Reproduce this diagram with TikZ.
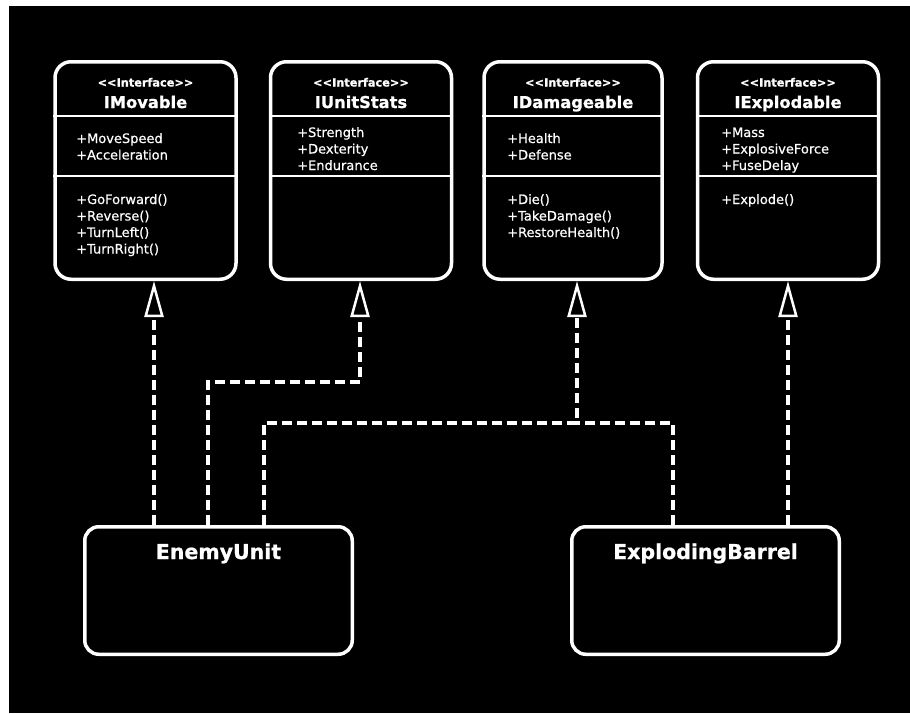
\documentclass[tikz,border=0pt]{standalone}
\usepackage{fontspec}
\setmainfont{DejaVu Sans}
\newfontfamily\memberfont{DejaVu Sans}[FakeBold=0.6]
\newfontfamily\heavyfont{DejaVu Sans}[BoldFeatures={FakeBold=0.9}]
\usetikzlibrary{arrows.meta}
\begin{document}
\begin{tikzpicture}[x=1pt,y=-1pt,
  box/.style={draw=white, line width=3.5pt, rounded corners=16pt, fill=black, inner sep=0pt},
  iface/.style={box, minimum width=181pt, minimum height=217.5pt},
  cls/.style={box, rounded corners=14pt, minimum width=267.5pt, minimum height=127.5pt},
  divider/.style={draw=white, line width=2.5pt},
  stereo/.style={text=white, font=\heavyfont\fontsize{11.3}{13}\selectfont\bfseries, inner sep=0pt, anchor=base},
  title/.style={text=white, font=\heavyfont\fontsize{16.3}{19}\selectfont\bfseries, inner sep=0pt, anchor=base},
  member/.style={text=white, font=\memberfont\fontsize{13}{16}\selectfont, inner sep=0pt, anchor=base west},
  clsname/.style={text=white, font=\heavyfont\fontsize{20.5}{24}\selectfont\bfseries, inner sep=0pt, anchor=base},
  link/.style={draw=white, line width=3.5pt, dash pattern=on 10pt off 5pt},
  realize/.style={link, -{Triangle[width=19pt,length=36pt,line width=2.5pt,fill=black]}},
]
% page and dark canvas
\fill[white] (0,0) rectangle (910,713);
\fill[black] (9,6) rectangle (910,713);
\useasboundingbox (0,0) rectangle (910,713);

% interface boxes
\node[iface] (imov) at (145.5,170.5) {};
\node[iface] (iuni) at (361,170.5) {};
\node[iface, minimum width=178pt] (idam) at (573,170.5) {};
\node[iface] (iexp) at (788,170.5) {};

% compartment dividers
\foreach \n in {imov,iuni,idam,iexp}{
  \draw[divider] ([yshift=-55.75pt]\n.north west) -- ([yshift=-55.75pt]\n.north east);
  \draw[divider] ([yshift=-115.75pt]\n.north west) -- ([yshift=-115.75pt]\n.north east);
}

% IMovable
\node[stereo] (imov-st) at (145.5,86.5) {<{}<Interface>{}>};
\node[title]  (imov-t)  at (145.5,108) {IMovable};
\node[member] (imov-a1) at (76,143)   {+MoveSpeed};
\node[member] (imov-a2) at (76,159.5) {+Acceleration};
\node[member] (imov-m1) at (76,204)   {+GoForward()};
\node[member] (imov-m2) at (76,220.5) {+Reverse()};
\node[member] (imov-m3) at (76,237)   {+TurnLeft()};
\node[member] (imov-m4) at (76,253.5) {+TurnRight()};

% IUnitStats
\node[stereo] (iuni-st) at (361,86.5) {<{}<Interface>{}>};
\node[title]  (iuni-t)  at (361,108) {IUnitStats};
\node[member] (iuni-a1) at (297,137)   {+Strength};
\node[member] (iuni-a2) at (297,153.5) {+Dexterity};
\node[member] (iuni-a3) at (297,170)   {+Endurance};

% IDamageable
\node[stereo] (idam-st) at (573,86.5) {<{}<Interface>{}>};
\node[title]  (idam-t)  at (573,108) {IDamageable};
\node[member] (idam-a1) at (507,143)   {+Health};
\node[member] (idam-a2) at (507,159.5) {+Defense};
\node[member] (idam-m1) at (507,204)   {+Die()};
\node[member] (idam-m2) at (507,220.5) {+TakeDamage()};
\node[member] (idam-m3) at (507,237)   {+RestoreHealth()};

% IExplodable
\node[stereo] (iexp-st) at (788,86.5) {<{}<Interface>{}>};
\node[title]  (iexp-t)  at (788,108) {IExplodable};
\node[member] (iexp-a1) at (721,137)   {+Mass};
\node[member] (iexp-a2) at (721,153.5) {+ExplosiveForce};
\node[member] (iexp-a3) at (721,170)   {+FuseDelay};
\node[member] (iexp-m1) at (721,204)   {+Explode()};

% concrete classes
\node[cls] (eu) at (218.5,590.5) {};
\node[cls] (eb) at (705.5,590.5) {};
\node[clsname] (eu-t) at (218.5,559) {EnemyUnit};
\node[clsname] (eb-t) at (705.5,559) {ExplodingBarrel};

% routing points
\coordinate (a1) at (154,0);
\coordinate (a4) at (788,0);
\coordinate (b1) at (208,382);
\coordinate (b2) at (360,382);
\coordinate (c1) at (264,423);
\coordinate (c2) at (577,423);
\coordinate (c3) at (673,423);

% realization connectors
\draw[realize] (eu.north -| a1) -- (imov.south -| a1);
\draw[realize] (eu.north -| b1) -- (b1) -- (b2) -- (iuni.south -| b2);
\draw[realize] (eu.north -| c1) -- (c1) -- (c2) -- (idam.south -| c2);
\draw[link]    (eb.north -| c3) -- (c3) -- (c2);
\draw[realize] (eb.north -| a4) -- (iexp.south -| a4);
\end{tikzpicture}
\end{document}
